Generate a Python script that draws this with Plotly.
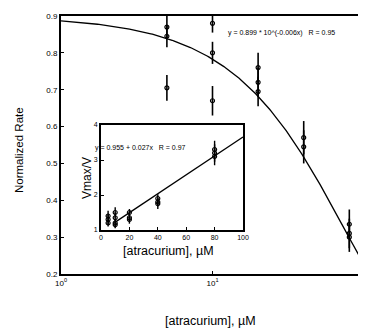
import numpy as np
import plotly.graph_objects as go

# ---- data ----
main_x = [5, 5, 5, 10, 10, 10, 20, 20, 20, 40, 40, 80, 80, 80]
main_y = [0.87, 0.845, 0.705, 0.88, 0.80, 0.67, 0.76, 0.72, 0.695, 0.57, 0.545, 0.335, 0.31, 0.30]
main_err = [0.03, 0.03, 0.035, 0.025, 0.03, 0.04, 0.04, 0.04, 0.04, 0.045, 0.045, 0.04, 0.04, 0.04]
fit_a, fit_b = 0.899, 0.006

inset_x = [5, 5, 5, 10, 10, 10, 10, 20, 20, 20, 40, 40, 40, 80, 80, 80]
inset_y = [1.4, 1.3, 1.2, 1.5, 1.35, 1.2, 1.15, 1.5, 1.35, 1.3, 1.9, 1.8, 1.75, 3.3, 3.2, 3.1]
inset_err = [0.15, 0.15, 0.1, 0.15, 0.15, 0.12, 0.1, 0.1, 0.12, 0.12, 0.12, 0.12, 0.15, 0.25, 0.25, 0.25]
lin_a, lin_b = 0.955, 0.027

main_yticks = [0.2, 0.3, 0.4, 0.5, 0.6, 0.7, 0.8, 0.9]
main_xticks = [1, 10, 100]
main_xticklabels = ["10<sup>0</sup>", "10<sup>1</sup>", "10<sup>2</sup>"]
inset_xticks = [0, 20, 40, 60, 80, 100]
inset_yticks = [1, 2, 3, 4]

# page body has an 8px margin; lay out in window pixels and compensate
OFF = 8
W, H = 366 - OFF, 329 - OFF
L, T = 61 - OFF, 16 - OFF
Rpix, Bpix = 364 - OFF, 274 - OFF
pw, ph = Rpix - L, Bpix - T

def px(x):
    return (x - OFF - L) / pw

def py(y):
    return (Bpix - (y - OFF)) / ph

fig = go.Figure()

cx = np.logspace(0, 2, 200)
fig.add_trace(go.Scatter(x=cx, y=fit_a * 10 ** (-fit_b * cx), mode="lines",
                         line=dict(color="black", width=1.3), xaxis="x", yaxis="y", hoverinfo="skip"))
fig.add_trace(go.Scatter(x=main_x, y=main_y, mode="markers",
                         marker=dict(symbol="circle-open", size=4, color="black", line=dict(width=1.2)),
                         error_y=dict(type="data", array=main_err, color="black", thickness=1.6, width=0),
                         xaxis="x", yaxis="y"))

lx = np.array([10, 100])
fig.add_trace(go.Scatter(x=lx, y=lin_a + lin_b * lx, mode="lines",
                         line=dict(color="black", width=1.3), xaxis="x2", yaxis="y2", hoverinfo="skip"))
fig.add_trace(go.Scatter(x=inset_x, y=inset_y, mode="markers",
                         marker=dict(symbol="circle-open", size=4, color="black", line=dict(width=1.2)),
                         error_y=dict(type="data", array=inset_err, color="black", thickness=1.4, width=0),
                         xaxis="x2", yaxis="y2"))

def axstyle(size):
    return dict(showline=True, linecolor="black", linewidth=2, mirror=True, ticks="inside",
                ticklen=3, tickcolor="black", showgrid=False, zeroline=False,
                tickfont=dict(family="Liberation Sans, Arial", size=size, color="black"),
                automargin=False)

fig.update_layout(
    width=W, height=H, margin=dict(l=L, r=W - Rpix, t=T, b=H - Bpix, autoexpand=False),
    paper_bgcolor="white", plot_bgcolor="white", showlegend=False,
    xaxis=dict(type="log", range=[0, 2], tickvals=main_xticks, ticktext=main_xticklabels, **axstyle(8)),
    yaxis=dict(range=[0.2, 0.9], tickvals=main_yticks, tickformat=".1f", **axstyle(8)),
    xaxis2=dict(range=[0, 100], tickvals=inset_xticks, domain=[px(101), px(243)], anchor="y2",
                ticklabelstandoff=0, **axstyle(7)),
    yaxis2=dict(range=[1, 4], tickvals=inset_yticks, domain=[py(230), py(125)], anchor="x2", **axstyle(7)),
)

def tfont(size):
    return dict(family="Liberation Sans, Arial", size=size, color="black")

def label(text, x, y, size, angle=0, xanchor="center"):
    fig.add_annotation(text=text, textangle=angle, x=px(x), y=py(y), xref="paper", yref="paper",
                       xanchor=xanchor, yanchor="middle", showarrow=False, font=tfont(size))

label("Normalized Rate", 19, 150, 11.5, angle=-90)
label("[atracurium], µM", 210, 321, 12.5)
label("Vmax/V", 87, 178, 12, angle=-90)
label("[atracurium], µM", 168, 251, 12.5)
label("y = 0.899 * 10^(-0.006x)   R = 0.95", 226, 33, 7, xanchor="left")
label("y = 0.955 + 0.027x   R = 0.97", 93, 148, 7, xanchor="left")

fig.write_html("out.html")
